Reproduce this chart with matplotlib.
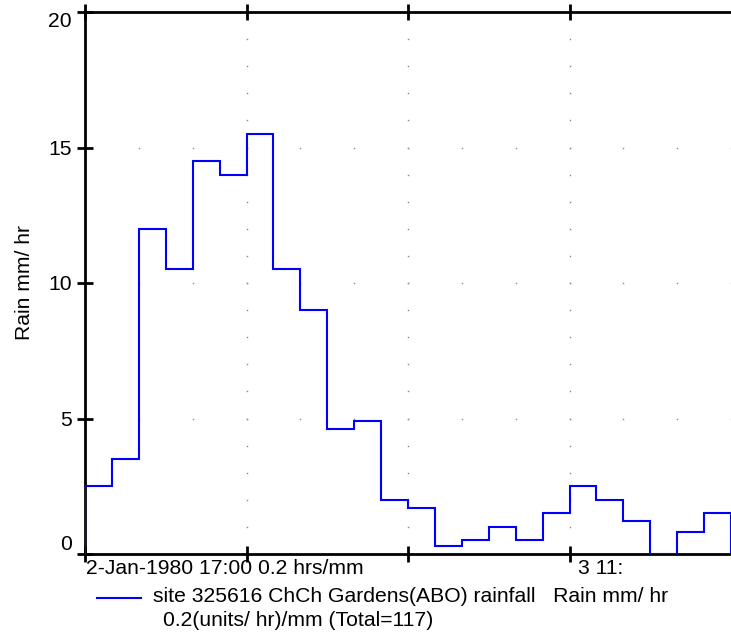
"""
Step plot of hourly rainfall intensity at one site, redrawn with matplotlib.
"""

import numpy as np                  # NumPy for numerical operations
import matplotlib.pyplot as plt     # Matplotlib for plotting graphs
from matplotlib.lines import Line2D

# rainfall intensity per 0.2 hr interval (mm/hr), starting 2-Jan-1980 17:00
rain = [2.5, 3.5, 12.0, 10.5, 14.5, 14.0, 15.5, 10.5, 9.0, 4.6, 4.9, 2.0,
        1.7, 0.3, 0.5, 1.0, 0.5, 1.5, 2.5, 2.0, 1.2, 0.0, 0.8, 1.5]
y_ticks = [0, 5, 10, 15, 20]
x_major = [0, 6, 12, 18, 24]
start_label = "2-Jan-1980 17:00 0.2 hrs/mm"
end_label = "3 11:"
series_label = "site 325616 ChCh Gardens(ABO) rainfall   Rain mm/ hr"
series_label2 = "0.2(units/ hr)/mm (Total=117)"
y_label = "Rain mm/ hr"

plt.rcParams['font.family'] = ['Liberation Sans', 'DejaVu Sans']
FS = 15.2

W, H = 731, 635
fig = plt.figure(figsize=(W / 100, H / 100), dpi=100)
ax = fig.add_axes([85 / W, 1 - 554 / H, (W - 85) / W, (554 - 12) / H])

edges = np.arange(len(rain) + 1)
ax.stairs(rain, edges, baseline=0, color='#0000ff', lw=1.5, zorder=3)

ax.set_xlim(0, len(rain))
ax.set_ylim(0, 20)

# dotted grid: rows every 2 bins, columns every 1 unit
gx = np.arange(0, len(rain) + 1, 2)
for yv in y_ticks[1:-1]:
    ax.plot(gx, np.full(len(gx), yv), ls='none', marker='s', ms=1.0,
            color='#888888', mec='none', zorder=1)
gy = np.arange(1, 20)
for xv in x_major[1:-1]:
    ax.plot(np.full(len(gy), xv), gy, ls='none', marker='s', ms=1.0,
            color='#888888', mec='none', zorder=1)

for side in ['left', 'bottom', 'top']:
    ax.spines[side].set_linewidth(2)
ax.spines['right'].set_visible(False)

ax.set_yticks(y_ticks)
ax.set_yticklabels([str(v) for v in y_ticks], fontsize=FS)
ax.tick_params(axis='y', direction='inout', length=11, width=2, pad=4)
ax.get_yticklabels()[0].set_va('bottom')
ax.get_yticklabels()[-1].set_va('top')

ax.set_xticks(x_major[:-1])
ax.set_xticklabels([])
ax.tick_params(axis='x', direction='inout', length=11, width=2,
               top=True, bottom=True)

ax.set_ylabel(y_label, fontsize=FS, labelpad=10)

ax.text(0.002, -0.01, start_label, transform=ax.transAxes,
        ha='left', va='top', fontsize=FS)
ax.text(x_major[3] + 0.3, -0.2, end_label,
        ha='left', va='top', fontsize=FS)

# legend drawn below the plot
fig.add_artist(Line2D([97 / W, 141 / W], [1 - 598 / H, 1 - 598 / H],
                      color='#0000ff', lw=1.5))
fig.text(153 / W, 1 - 597 / H, series_label, ha='left', va='center',
         fontsize=FS)
fig.text(163 / W, 1 - 620 / H, series_label2, ha='left', va='center',
         fontsize=FS)

fig.savefig('out.png', dpi=100)
